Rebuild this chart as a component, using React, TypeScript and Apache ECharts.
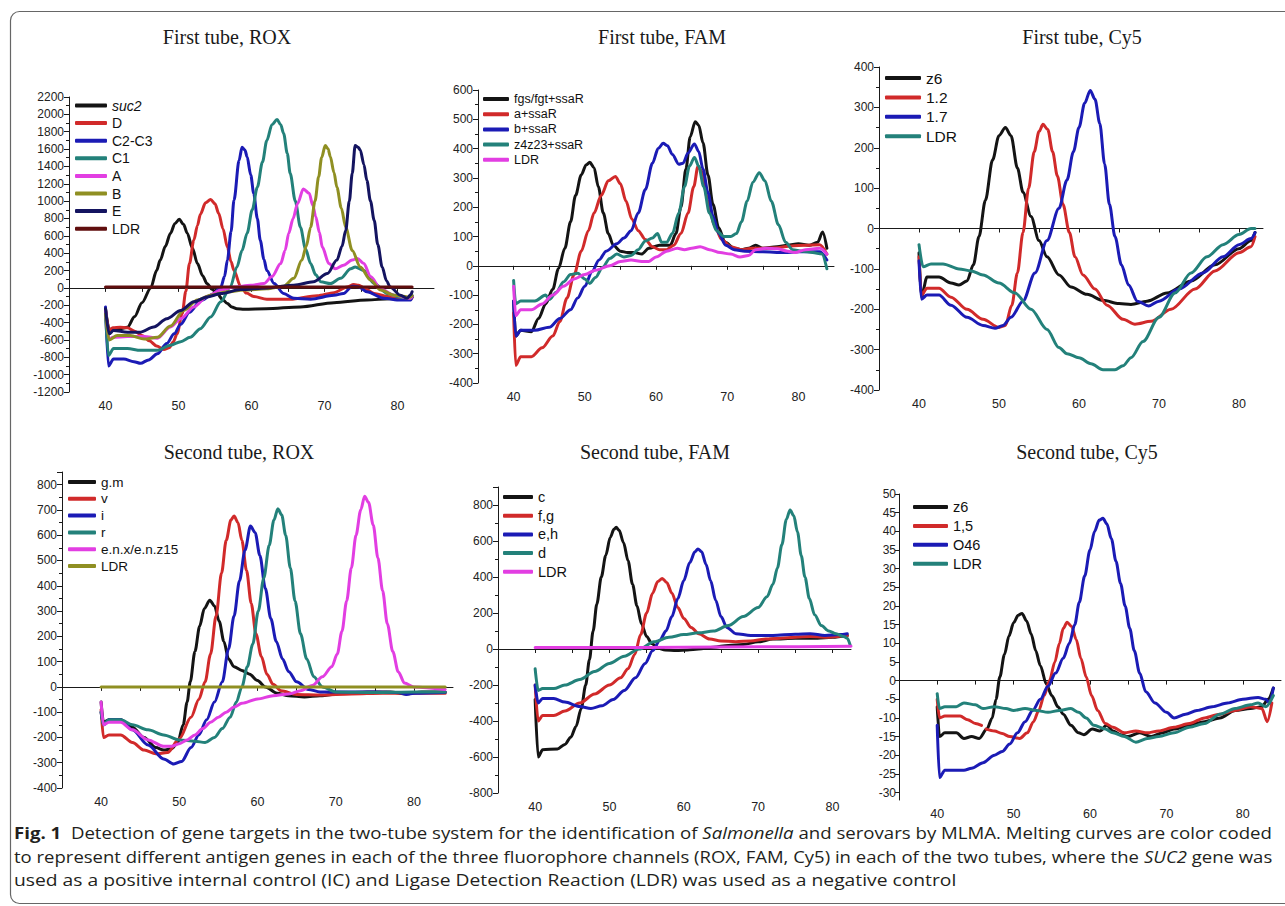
import React, { useEffect, useRef } from "react";
import * as echarts from "echarts";

// ---------------- DATA: [temperature (°C), -dF/dT] ----------------
// First tube, ROX
const rox1Names = ["suc2", "D", "C2-C3", "C1", "A", "B", "E", "LDR"];
const rox1_suc2 = [[40,-240],[40.5,-480],[41,-470],[42,-470],[43,-455],[44,-330],[45,-170],[46.2,0],[47,200],[47.5,320],[48.2,480],[48.9,630],[49.5,740],[50.1,790],[50.7,730],[51.2,630],[51.9,460],[52.6,280],[53.3,140],[53.9,50],[54.6,-15],[55.3,-65],[56,-130],[56.7,-180],[57.3,-220],[58,-240],[59,-245],[62,-240],[66.7,-220],[71.3,-170],[75.8,-140],[79,-125],[81.8,-125],[82,-110]];
const rox1_D = [[40,-250],[40.5,-490],[41,-460],[42,-455],[43,-460],[44,-500],[45,-550],[46,-610],[47,-670],[48,-710],[48.7,-690],[49.3,-620],[49.8,-530],[50.5,-300],[51,-40],[51.5,280],[52.1,550],[52.6,720],[53,850],[53.7,980],[54.4,1020],[55,970],[55.5,860],[56.1,680],[56.7,470],[57.2,300],[57.6,200],[58.5,20],[59.3,-60],[60.3,-100],[62.1,-130],[65.3,-130],[69,-90],[71.3,-55],[73.1,10],[74,40],[74.7,30],[75.4,0],[76.8,-65],[78.6,-100],[80.5,-130],[81.8,-135],[82,-110]];
const rox1_C23 = [[40,-220],[40.4,-900],[41.1,-820],[42.5,-820],[43.9,-850],[44.8,-870],[45.9,-830],[47.1,-760],[48.4,-640],[49.4,-530],[50.3,-420],[51.5,-280],[53,-150],[54.8,-70],[55.8,10],[56.3,130],[56.7,320],[57.2,650],[57.6,1010],[58.3,1470],[58.7,1620],[59.1,1590],[59.4,1510],[59.9,1300],[60.3,1090],[60.8,800],[61.2,550],[61.7,330],[62.1,200],[63.1,50],[64.4,-65],[65.8,-120],[68.1,-130],[71.3,-85],[72.6,-65],[73.8,20],[74.7,10],[75.8,-45],[78.1,-120],[80.4,-140],[81.8,-140],[82,-100]];
const rox1_C1 = [[40,-275],[40.4,-780],[41.1,-700],[43,-700],[44.8,-720],[47.1,-720],[48.9,-660],[50.3,-620],[51.6,-570],[53,-470],[54.4,-335],[55.8,-160],[57.1,10],[58,240],[58.7,430],[59.4,630],[60.1,900],[60.8,1160],[61.5,1450],[62.1,1700],[62.8,1880],[63.5,1940],[64,1880],[64.4,1780],[64.9,1550],[65.3,1320],[66,1000],[66.7,700],[67.4,450],[68.1,280],[68.8,150],[69.5,70],[70.8,50],[72.2,110],[73.6,220],[74.2,240],[75.4,200],[76.8,50],[78.6,-65],[80.5,-110],[81.8,-120],[82,-90]];
const rox1_A = [[40,-260],[40.5,-590],[41,-570],[43,-560],[45.3,-560],[47.1,-580],[48.9,-450],[50.3,-355],[52.1,-220],[53.9,-100],[55.8,-25],[57.6,10],[59.9,30],[61.7,50],[62.8,130],[64,280],[64.6,430],[65.1,630],[65.7,800],[66.3,970],[67.1,1140],[67.9,1090],[68.4,950],[68.8,820],[69.3,640],[69.7,470],[70.6,280],[71.5,220],[72.6,260],[73.8,320],[74.5,340],[75.4,280],[76.3,130],[77.7,-10],[79.5,-85],[81.8,-120],[82,-100]];
const rox1_B = [[40,-300],[40.5,-600],[41.6,-550],[43.4,-550],[45.3,-590],[47.1,-570],[48.9,-440],[50.7,-260],[52.6,-140],[54.4,-85],[56.7,-45],[58.9,-25],[62.1,-10],[64.4,20],[65.8,110],[66.9,320],[67.5,480],[68.1,700],[68.7,1000],[69.2,1280],[69.6,1500],[70.1,1640],[70.5,1600],[70.8,1510],[71.3,1330],[71.7,1160],[72.3,920],[72.9,700],[73.8,430],[74.9,240],[76.3,90],[77.7,-25],[79.5,-85],[81.8,-105],[82,-90]];
const rox1_E = [[40,-240],[40.5,-530],[41.1,-490],[43,-510],[44.8,-510],[46.6,-450],[48.4,-355],[50.3,-260],[52.1,-160],[53.9,-105],[55.8,-65],[58.5,-20],[62.1,0],[65.8,30],[68.5,70],[70.4,165],[71.7,320],[72.4,480],[72.9,660],[73.4,1000],[73.8,1320],[74.2,1640],[74.6,1620],[74.9,1590],[75.4,1420],[75.8,1240],[76.3,1000],[76.8,780],[77.3,500],[77.9,240],[78.5,80],[79,10],[80.4,-85],[81.3,-120],[81.8,-80],[82,-45]];
const rox1_LDR = [[40,10],[50,10],[60,10],[70,10],[82,10]];

// First tube, FAM
const fam1Names = ["fgs/fgt+ssaR", "a+ssaR", "b+ssaR", "z4z23+ssaR", "LDR"];
const fam1_fgs = [[40,-120],[40.3,-240],[41,-220],[42.5,-225],[43.5,-180],[44.5,-130],[45.5,-80],[46.3,-10],[47.2,60],[48,150],[48.7,240],[49.5,310],[50.2,345],[50.7,353],[51.3,335],[51.9,270],[52.6,180],[53.3,110],[54,70],[55,50],[56,45],[57,45],[58,40],[59,60],[60.5,70],[62,70],[62.8,110],[63.5,200],[64.2,330],[64.8,440],[65.5,492],[66,480],[66.6,420],[67.3,310],[68,210],[68.8,130],[69.7,80],[71,60],[72,55],[73,60],[74,70],[75,60],[77,65],[78.5,70],[80,75],[81.5,70],[82.7,80],[83.4,115],[84,60]];
const fam1_a = [[40,-160],[40.3,-340],[41,-310],[42.5,-310],[44,-280],[45.5,-240],[46.5,-190],[47.5,-110],[48.5,-30],[49.5,50],[50.5,120],[51.3,180],[52.3,240],[53.3,290],[54.3,305],[55,280],[55.8,220],[56.6,160],[57.5,120],[58.5,90],[59.5,65],[60.5,55],[61.5,55],[62.5,70],[63.5,110],[64.5,180],[65.3,270],[65.9,340],[66.5,320],[67.3,220],[68.2,140],[69.2,90],[70.5,65],[72,55],[73.5,60],[75,60],[77,62],[79,68],[81,70],[83,72],[84,40]];
const fam1_b = [[40,-120],[40.3,-240],[41,-220],[43,-220],[45,-210],[46.5,-180],[48,-150],[49,-110],[50,-70],[51,-20],[52,20],[53,50],[54.5,75],[55.5,95],[56.5,120],[57.5,180],[58.5,260],[59.5,350],[60.3,400],[61,418],[61.6,410],[62.3,380],[63.2,347],[63.8,350],[64.5,385],[65.4,416],[66,390],[66.6,330],[67.3,250],[68,170],[68.8,110],[69.8,70],[71,55],[72.5,50],[75,48],[78,45],[80,48],[83,48],[84,20]];
const fam1_z = [[40,-50],[40.3,-130],[41,-120],[43,-120],[44.5,-100],[45,-115],[46,-90],[47,-55],[48,-30],[49,-25],[50,-45],[50.7,-60],[51.5,-40],[52.5,-5],[53.5,25],[54.5,40],[55.5,30],[56.5,35],[57.5,55],[58.5,85],[59.5,95],[60.2,110],[60.8,80],[61.5,80],[62.3,110],[63.2,180],[64,270],[64.7,340],[65.4,370],[66,340],[66.7,270],[67.5,180],[68.5,120],[69.5,100],[70.5,100],[71.3,110],[72,150],[72.8,220],[73.6,285],[74.5,318],[75.3,290],[76.2,220],[77.2,140],[78.2,80],[79.2,55],[80.5,50],[82,45],[83.3,40],[84,-10]];
const fam1_LDR = [[40,-70],[40.3,-170],[41,-150],[42.5,-150],[44,-130],[45.5,-100],[47,-70],[48.5,-45],[50,-30],[51.5,-15],[53.5,0],[55,15],[56.5,20],[58,15],[59,15],[60,30],[61.5,50],[63,60],[64,55],[65,60],[66.2,65],[67.5,55],[69,45],[70.5,40],[71.8,30],[73,35],[74,55],[75.5,60],[77,58],[78.5,50],[79.5,45],[81,55],[83,60],[84,40]];

// First tube, Cy5
const cy51Names = ["z6", "1.2", "1.7", "LDR"];
const cy51_z6 = [[40,-60],[40.3,-170],[41,-120],[42.5,-120],[44,-135],[45,-140],[46,-130],[46.8,-90],[47.5,-20],[48.3,70],[49.2,170],[50,230],[50.8,250],[51.5,230],[52.3,150],[53,90],[54,30],[55,-30],[56,-70],[57.5,-115],[59,-145],[61,-163],[63,-178],[65,-186],[66.5,-188],[68.5,-180],[71,-160],[74,-130],[77,-90],[80,-50],[81.5,-30],[82,-10]];
const cy51_12 = [[40,-70],[40.3,-165],[41,-148],[42.5,-148],[44,-170],[46,-200],[48,-225],[50,-245],[50.8,-240],[51.6,-190],[52.3,-110],[53,-10],[53.7,100],[54.4,190],[55,240],[55.5,258],[56.1,245],[56.7,190],[57.3,130],[58,60],[58.8,-10],[59.5,-70],[60.5,-115],[62,-150],[63.5,-190],[65.5,-225],[67,-237],[69,-230],[71.5,-200],[74.5,-150],[77,-105],[80,-60],[81.5,-45],[82,-20]];
const cy51_17 = [[40,-80],[40.3,-175],[41,-165],[42.5,-165],[44,-190],[46,-220],[48,-240],[49.5,-247],[50.5,-240],[51.5,-220],[53,-180],[54.5,-110],[56,-30],[57.5,50],[58.5,120],[59.3,190],[60,250],[60.7,310],[61.4,342],[62,320],[62.6,260],[63.2,160],[63.8,60],[64.5,-20],[65.3,-90],[66.2,-140],[67.3,-180],[68.7,-192],[70,-180],[72.5,-150],[75.5,-110],[78,-70],[80,-40],[81.5,-25],[82,-10]];
const cy51_LDR = [[40,-40],[40.5,-95],[41.5,-88],[43,-88],[45,-100],[46.5,-105],[48,-115],[50,-135],[52,-160],[54,-200],[56,-250],[57.5,-295],[58.5,-310],[60,-320],[61.5,-335],[63,-350],[64.5,-350],[65.5,-340],[66.5,-320],[68,-280],[70,-220],[72,-160],[74,-110],[76,-70],[78,-40],[80,-15],[81.5,0],[82,0]];

// Second tube, ROX
const rox2Names = ["g.m", "v", "i", "r", "e.n.x/e.n.z15", "LDR"];
const rox2_gm = [[40,-60],[40.3,-140],[41,-130],[42.5,-130],[44,-160],[45.5,-200],[47,-240],[48,-250],[49,-245],[49.8,-220],[50.5,-150],[51,-60],[51.4,20],[52,140],[52.6,240],[53.2,310],[53.9,343],[54.5,320],[55.1,260],[55.7,180],[56.3,110],[57,80],[58,65],[59,50],[60,25],[61,0],[62.5,-25],[64,-35],[66,-40],[68,-35],[71,-25],[74,-20],[77,-20],[79,-28],[81,-20],[84,-20]];
const rox2_v = [[40,-90],[40.3,-200],[41,-190],[42.5,-190],[44,-220],[45.5,-250],[47,-265],[48.5,-260],[50,-205],[51.5,-120],[52.5,-50],[53.3,20],[54,130],[54.7,280],[55.4,450],[56,580],[56.6,660],[57,676],[57.5,650],[58,580],[58.6,460],[59.2,330],[59.8,210],[60.5,120],[61.2,50],[62,10],[63,-15],[65,-30],[68,-32],[72,-28],[76,-25],[80,-25],[84,-25]];
const rox2_i = [[40,-100],[40.3,-150],[41,-130],[42.5,-130],[44,-170],[46,-230],[48,-285],[49.3,-305],[50.3,-295],[51.5,-240],[52.5,-190],[53.5,-130],[54.5,-60],[55.5,20],[56.3,150],[57,280],[57.7,420],[58.4,540],[59.1,636],[59.7,610],[60.3,520],[61,390],[61.7,270],[62.4,180],[63.2,110],[64,60],[65,20],[66.5,-10],[68,-20],[71,-20],[75,-20],[78,-22],[79,-30],[80,-25],[84,-22]];
const rox2_r = [[40,-100],[40.3,-150],[41,-130],[42.5,-130],[44,-150],[46,-170],[48,-190],[50,-210],[52,-215],[53.3,-220],[54.5,-200],[55.5,-165],[56.5,-120],[57.3,-60],[58,0],[58.7,80],[59.4,170],[60.1,300],[60.8,430],[61.5,560],[62.1,660],[62.6,705],[63.1,680],[63.6,600],[64.2,470],[64.8,340],[65.5,210],[66.3,110],[67.2,40],[68.3,0],[70,-20],[75,-22],[80,-20],[84,-20]];
const rox2_e = [[40,-60],[40.3,-150],[41,-140],[42.5,-140],[44,-170],[46,-210],[48,-235],[49,-235],[50,-225],[51,-210],[52,-190],[53,-165],[54,-140],[55,-120],[56,-100],[57,-80],[58,-65],[60,-48],[62,-35],[64,-28],[65.5,-15],[67,5],[68.3,40],[69.5,80],[70.2,130],[70.8,220],[71.4,340],[72,470],[72.6,600],[73.2,700],[73.7,754],[74.2,730],[74.8,640],[75.4,510],[76,380],[76.6,250],[77.3,140],[78,60],[78.8,15],[80,0],[84,-10]];
const rox2_LDR = [[40,0],[50,0],[60,0],[70,0],[84,0]];

// Second tube, FAM
const fam2Names = ["c", "f,g", "e,h", "d", "LDR"];
const fam2_c = [[40,-280],[40.4,-600],[41,-560],[43,-555],[44,-530],[44.8,-490],[45.5,-430],[46.2,-330],[46.8,-200],[47.3,-60],[47.8,100],[48.3,250],[48.9,400],[49.5,520],[50.1,620],[50.6,665],[50.9,676],[51.3,660],[51.9,590],[52.5,490],[53.1,360],[53.7,240],[54.3,140],[55,70],[55.7,30],[56.5,5],[57.5,-5],[59,-8],[60.5,-5],[62,0],[64,10],[66,20],[68,25],[70,40],[72,55],[75,60],[78,60],[80,65],[82,75]];
const fam2_fg = [[40,-200],[40.4,-400],[41,-370],[42.5,-370],[44,-345],[46,-300],[48,-250],[50,-200],[51.5,-160],[52.5,-110],[53.4,-30],[54.2,80],[55,200],[55.8,310],[56.5,375],[57.1,392],[57.7,370],[58.4,310],[59.2,230],[60,170],[61,120],[62,85],[63.5,55],[65,45],[67,40],[69,45],[71,55],[73,60],[75,65],[77,70],[79,65],[82,75]];
const fam2_eh = [[40,-200],[40.4,-300],[41,-275],[42.5,-275],[44,-295],[46,-320],[47.5,-330],[49,-315],[50.5,-280],[52,-230],[53.5,-160],[54.8,-80],[55.8,-10],[56.8,50],[57.6,100],[58.4,180],[59.2,280],[60,380],[60.8,480],[61.5,540],[61.9,556],[62.4,540],[63,470],[63.6,380],[64.3,270],[65,180],[65.8,120],[67,85],[69,75],[72,75],[75,82],[77,85],[79,75],[81,80],[82,85]];
const fam2_d = [[40,-110],[40.4,-230],[41,-220],[42.5,-220],[44,-200],[46,-170],[48,-125],[50,-80],[52,-40],[54,0],[56,40],[58,65],[60,80],[62,90],[64,100],[66,130],[68,180],[70,230],[71.2,290],[72,360],[72.6,450],[73.2,580],[73.8,720],[74.3,772],[74.8,740],[75.3,650],[75.8,520],[76.3,400],[76.9,280],[77.6,190],[78.5,130],[79.5,100],[80.5,85],[81.5,70],[82,60],[82.4,20]];
const fam2_LDR = [[40,8],[50,8],[60,10],[70,12],[82.5,15]];

// Second tube, Cy5
const cy52Names = ["z6", "1,5", "O46", "LDR"];
const cy52_z6 = [[40,-7],[40.3,-15],[41,-14],[42.5,-14],[43.5,-15.5],[44.5,-15],[45.5,-15.5],[46.5,-13],[47.2,-10],[47.7,-5],[48.2,1],[48.8,7],[49.4,12],[50,15.5],[50.6,17.5],[51.1,18],[51.7,16],[52.3,12.5],[52.9,8],[53.5,4],[54.3,-1],[55,-4],[55.8,-7],[56.5,-9],[57.5,-12],[58.5,-14],[59.2,-14.5],[60.3,-13],[61.3,-13.5],[62.2,-12],[63,-13.5],[64,-14.5],[65,-15],[66.5,-14],[68,-15],[69.5,-14],[71,-13],[73,-12],[75,-11],[77,-10],[79,-8],[81,-7.5],[82.5,-7],[83.3,-5],[84,-2]];
const cy52_15 = [[40,-5],[40.3,-10],[41,-9.5],[43,-9.5],[44,-10.5],[45,-11.5],[45.8,-12],[46.1,null],[46.4,-13],[47.5,-13.5],[48.5,-14.2],[49.5,-15],[50.8,-15.5],[51.8,-14],[52.6,-11],[53.3,-8],[54,-4],[54.7,0],[55.4,5],[56,10],[56.5,14],[57,15.6],[57.6,14.5],[58.2,11],[58.8,6],[59.5,1],[60.2,-4],[61,-8],[62,-11.5],[63,-12.5],[64.5,-14],[66,-13.5],[67.5,-14],[69,-13.5],[71,-12.5],[73,-11.5],[75,-10],[77,-9],[79,-8],[81,-7],[82.5,-7.5],[83.2,-11],[83.8,-6]];
const cy52_O46 = [[40,-12],[40.3,-26],[41,-24],[43.5,-24],[44.5,-23.5],[46,-22],[47.5,-20],[48.5,-19],[49.5,-17],[50.5,-14],[51.5,-11],[52.5,-8],[53.5,-5],[54.5,-1.5],[55.5,2],[56.5,6],[57.3,10],[58,15],[58.6,21],[59.3,28],[60,35],[60.6,40],[61.2,43],[61.7,43.5],[62.2,42],[62.8,38],[63.4,32],[64,26],[64.6,20],[65.2,14],[65.8,8],[66.5,2],[67.3,-3],[68.5,-6],[70,-8.5],[71,-10],[72.5,-9],[74,-8],[76,-7],[78,-6],[80,-5],[82,-4.5],[83,-5],[83.5,-6],[84,-2]];
const cy52_LDR = [[40,-3.5],[40.3,-7.5],[41,-7],[42.5,-7],[43.5,-6],[45,-6.5],[46,-7.5],[47.5,-7],[49,-7.5],[50,-8],[51.5,-7.5],[53,-8],[54.5,-8.5],[56,-8],[57.5,-7.5],[58.5,-8.5],[59.5,-10],[60.5,-12],[62,-13],[63,-14],[64.5,-15],[66,-16.5],[67.5,-15.5],[69,-15],[71,-14],[73,-12.5],[75,-11.5],[77,-9],[79,-7.5],[81,-6.5],[82,-6],[83,-7],[84,-4]];

// Titles / ticks
const panelTitles = ["First tube, ROX", "First tube, FAM", "First tube, Cy5", "Second tube, ROX", "Second tube, FAM", "Second tube, Cy5"];
const xTickLabels = [40, 50, 60, 70, 80];
const xTickMarks = [40, 45, 50, 55, 60, 65, 70, 75, 80];
const cy52YTicks = [-30, -25, -20, -15, -10, -5, 0, 5, 10, 15, 20, 25, 30, 35, 40, 45, 50];

const captionLines = [
  "{b|Fig. 1}  Detection of gene targets in the two-tube system for the identification of {i|Salmonella} and serovars by MLMA. Melting curves are color coded",
  "to represent different antigen genes in each of the three fluorophore channels (ROX, FAM, Cy5) in each of the two tubes, where the {i|SUC2} gene was",
  "used as a positive internal control (IC) and Ligase Detection Reaction (LDR) was used as a negative control",
];

// ---------------- STYLE / LAYOUT ----------------
const COL = {
  black: "#141414", red: "#d12a2a", blue: "#1b1bb5", teal: "#23817a",
  magenta: "#e23ee2", olive: "#8f8f22", navy: "#141460", wine: "#600e0e",
};
const SANS = '"Liberation Sans", Arial, sans-serif';
const SERIF = '"Liberation Serif", "Times New Roman", serif';
const CAP = '"Open Sans", sans-serif';

const panels = [
  { grid: { left: 69, top: 97, width: 365, height: 295 }, xMax: 85, yMin: -1200, yMax: 2200, step: 200,
    names: rox1Names, data: [rox1_suc2, rox1_D, rox1_C23, rox1_C1, rox1_A, rox1_B, rox1_E, rox1_LDR],
    colors: [COL.black, COL.red, COL.blue, COL.teal, COL.magenta, COL.olive, COL.navy, COL.wine],
    legend: { left: 75, first: 105.5, gap: 17.6, w: 32, fs: 14 }, title: [227, 37] },
  { grid: { left: 478, top: 90, width: 356, height: 293 }, xMax: 85, yMin: -400, yMax: 600, step: 100,
    names: fam1Names, data: [fam1_fgs, fam1_a, fam1_b, fam1_z, fam1_LDR],
    colors: [COL.black, COL.red, COL.blue, COL.teal, COL.magenta],
    legend: { left: 483, first: 99, gap: 15.2, w: 26, fs: 12.5 }, title: [662, 37] },
  { grid: { left: 879, top: 67, width: 384, height: 323 }, xMax: 83, yMin: -400, yMax: 400, step: 100,
    names: cy51Names, data: [cy51_z6, cy51_12, cy51_17, cy51_LDR],
    colors: [COL.black, COL.red, COL.blue, COL.teal],
    legend: { left: 885, first: 78, gap: 19.4, w: 36, fs: 15.5 }, title: [1082, 37] },
  { grid: { left: 62, top: 472, width: 391, height: 316 }, xMax: 85, yMin: -400, yMax: 850, step: 100, hideAbove: 800,
    names: rox2Names, data: [rox2_gm, rox2_v, rox2_i, rox2_r, rox2_e, rox2_LDR],
    colors: [COL.black, COL.red, COL.blue, COL.teal, COL.magenta, COL.olive],
    legend: { left: 68, first: 482, gap: 16.8, w: 28, fs: 13.5 }, title: [239, 452] },
  { grid: { left: 498, top: 487, width: 353, height: 306 }, xMax: 82.5, yMin: -800, yMax: 900, step: 200, hideAbove: 800,
    names: fam2Names, data: [fam2_c, fam2_fg, fam2_eh, fam2_d, fam2_LDR],
    colors: [COL.black, COL.red, COL.blue, COL.teal, COL.magenta],
    legend: { left: 503, first: 497, gap: 18.7, w: 30, fs: 14.5 }, title: [655, 452] },
  { grid: { left: 899, top: 494, width: 382, height: 306 }, xMax: 85, yMin: -32, yMax: 50, custom: cy52YTicks,
    names: cy52Names, data: [cy52_z6, cy52_15, cy52_O46, cy52_LDR],
    colors: [COL.black, COL.red, COL.blue, COL.teal],
    legend: { left: 913, first: 507, gap: 18.9, w: 35, fs: 14.5 }, title: [1087, 452] },
];

const captionTargets = [
  { x: 14, y: 833, w: 1258 },
  { x: 14, y: 857, w: 1258 },
  { x: 14, y: 880, w: 943 },
];

function measureRich(line: string, size: number): number {
  const ctx = document.createElement("canvas").getContext("2d");
  if (!ctx) return 1;
  let total = 0;
  const re = /\{(\w)\|([^}]*)\}/g;
  let last = 0;
  let m: RegExpExecArray | null;
  const seg = (t: string, kind: string) => {
    const st = kind === "i" ? "italic " : "";
    const wt = kind === "b" ? "bold " : "";
    ctx.font = `${st}${wt}${size}px "Open Sans"`;
    total += ctx.measureText(t).width;
  };
  while ((m = re.exec(line))) {
    if (m.index > last) seg(line.slice(last, m.index), "n");
    seg(m[2], m[1]);
    last = m.index + m[0].length;
  }
  if (last < line.length) seg(line.slice(last), "n");
  return total;
}

function buildOption() {
  const grid: any[] = [];
  const xAxis: any[] = [];
  const yAxis: any[] = [];
  const series: any[] = [];
  const legend: any[] = [];
  const axisLine = { show: true, lineStyle: { color: "#1a1a1a", width: 1 } };

  panels.forEach((p, i) => {
    grid.push({ ...p.grid, containLabel: false, outerBoundsMode: "none" });
    xAxis.push({
      type: "value", gridIndex: i, min: 35, max: p.xMax,
      axisLine, splitLine: { show: false },
      axisTick: { show: true, length: 4, customValues: xTickMarks, lineStyle: { color: "#1a1a1a" } },
      axisLabel: { customValues: xTickLabels, fontFamily: SANS, fontSize: 12.5, color: "#222", margin: 7 },
    });
    const y: any = {
      type: "value", gridIndex: i, min: p.yMin, max: p.yMax,
      axisLine, splitLine: { show: false },
      axisTick: { show: true, length: 5, lineStyle: { color: "#1a1a1a" } },
      axisLabel: { fontFamily: SANS, fontSize: 12, color: "#222", margin: 5 },
    };
    if (p.custom) {
      y.axisTick.customValues = p.custom;
      y.axisTick.length = 4;
      y.axisLabel.customValues = p.custom;
      y.axisLabel.margin = 3;
    } else {
      y.interval = p.step;
      y.minorTick = { show: true, splitNumber: 2, length: 3, lineStyle: { color: "#1a1a1a" } };
      const hide = p.hideAbove;
      y.axisLabel.formatter = (v: number) => (hide !== undefined && v > hide ? "" : String(v));
    }
    yAxis.push(y);

    p.names.forEach((name, k) => {
      series.push({
        type: "line", name, xAxisIndex: i, yAxisIndex: i,
        data: p.data[k], showSymbol: false, symbol: "none",
        smooth: 0.3, smoothMonotone: "x", connectNulls: false, silent: true,
        lineStyle: { width: 3, color: p.colors[k], cap: "round", join: "round" },
        itemStyle: { color: p.colors[k] },
      });
    });

    const L = p.legend;
    legend.push({
      orient: "vertical", left: L.left, top: L.first - L.gap / 2, padding: 0,
      itemGap: 0, itemWidth: L.w, itemHeight: 4, icon: "roundRect", selectedMode: false,
      itemStyle: { borderWidth: 0 },
      textStyle: {
        fontFamily: SANS, fontSize: L.fs, lineHeight: L.gap, color: "#111",
        rich: { i: { fontStyle: "italic", fontFamily: SANS, fontSize: L.fs, lineHeight: L.gap, color: "#111" } },
      },
      formatter: (n: string) => (n === "suc2" ? "{i|suc2}" : n),
      data: p.names.map((n, k) => ({ name: n, itemStyle: { color: p.colors[k], borderWidth: 0 } })),
    });
  });

  const graphic: any[] = [
    { type: "rect", silent: true, shape: { x: 10.5, y: 11.5, width: 1290, height: 892, r: 9 },
      style: { fill: "none", stroke: "#666", lineWidth: 1.2 } },
  ];
  panels.forEach((p, i) => {
    graphic.push({
      type: "text", silent: true, x: p.title[0], y: p.title[1],
      style: { text: panelTitles[i], fontFamily: SERIF, fontSize: 20, fill: "#1a1a1a", align: "center", verticalAlign: "middle" },
    });
  });
  captionLines.forEach((line, j) => {
    const t = captionTargets[j];
    const natural = measureRich(line, 16);
    const sx = natural > 0 ? t.w / natural : 1;
    graphic.push({
      type: "text", silent: true, x: t.x, y: t.y, scaleX: sx,
      style: {
        text: line, fontFamily: CAP, fontSize: 16, fill: "#231f20", align: "left", verticalAlign: "middle",
        rich: {
          b: { fontFamily: CAP, fontSize: 16, fontWeight: "bold", fill: "#231f20" },
          i: { fontFamily: CAP, fontSize: 16, fontStyle: "italic", fill: "#231f20" },
        },
      },
    });
  });

  return { animation: false, backgroundColor: "#ffffff", grid, xAxis, yAxis, series, legend, graphic };
}

export default function App() {
  const ref = useRef<HTMLDivElement>(null);
  useEffect(() => {
    if (!ref.current) return;
    const chart = echarts.init(ref.current, null, { renderer: "svg" });
    chart.setOption(buildOption());
    return () => chart.dispose();
  }, []);
  return <div ref={ref} style={{ position: "absolute", left: 0, top: 0, width: 1285, height: 906 }} />;
}
